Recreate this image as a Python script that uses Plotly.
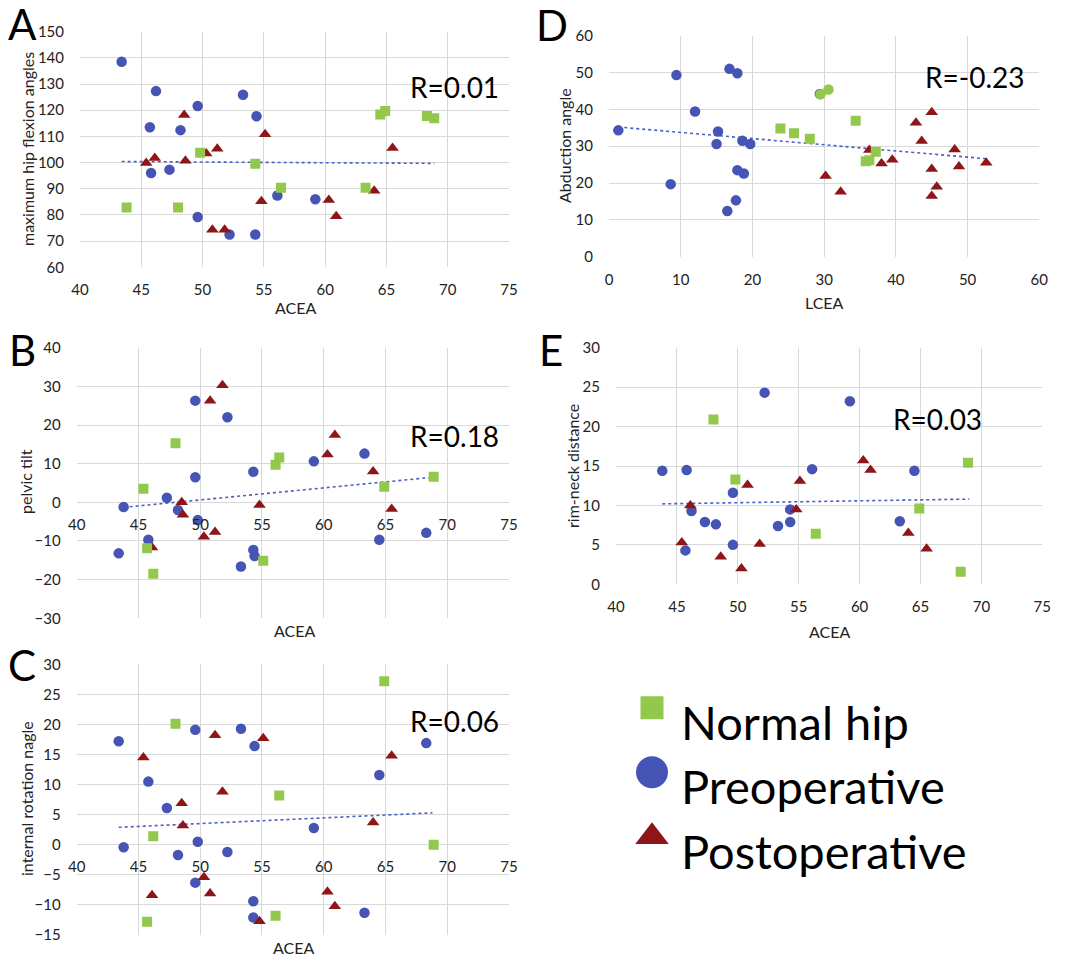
import plotly.graph_objects as go

W, H = 1073, 956
def fx(p): return p / W
def fy(p): return 1 - p / H

GREEN = "#92C84B"
BLUE = "#4655B5"
RED = "#8E1518"
GRID = "#D9D9D9"
TREND = "#4A5FC8"
FONT = "Lato"

# ---------------- Panel A: ACEA vs maximum hip flexion ----------------
A_pre_x = [43.4, 46.2, 53.3, 49.6, 45.7, 54.4, 48.2, 45.8, 47.3, 56.1, 59.2, 49.6, 52.2, 54.3]
A_pre_y = [138.5, 127.3, 125.9, 121.6, 113.5, 117.7, 112.4, 96.0, 97.3, 87.4, 86.0, 79.2, 72.5, 72.5]
A_post_x = [48.5, 55.1, 51.2, 65.5, 50.3, 45.4, 46.1, 48.6, 54.8, 60.3, 60.9, 64.0, 50.8, 51.8]
A_post_y = [118.2, 110.8, 105.3, 105.6, 103.5, 99.8, 101.8, 100.7, 85.2, 85.7, 79.5, 89.2, 74.3, 74.3]
A_norm_x = [43.8, 48.0, 49.8, 54.3, 56.4, 63.3, 64.5, 64.9, 68.3, 68.9]
A_norm_y = [82.8, 82.8, 103.8, 99.6, 90.4, 90.4, 118.4, 119.7, 117.8, 116.9]
A_trend_x = [43.4, 68.9]
A_trend_y = [100.4, 99.7]

# ---------------- Panel D: LCEA vs abduction angle ----------------
D_pre_x = [1.3, 9.4, 8.6, 12.0, 15.2, 15.0, 16.8, 17.9, 18.6, 19.7, 17.9, 18.8, 17.7, 16.5, 29.4]
D_pre_y = [34.3, 49.3, 19.7, 39.4, 34.0, 30.6, 51.0, 49.8, 31.5, 30.6, 23.5, 22.6, 15.3, 12.4, 44.2]
D_post_x = [30.2, 32.3, 36.3, 38.0, 39.5, 42.8, 43.6, 45.0, 45.0, 45.0, 45.7, 48.2, 48.8, 52.6]
D_post_y = [21.9, 17.6, 29.0, 25.3, 26.3, 36.4, 31.4, 39.2, 23.8, 16.5, 19.0, 29.1, 24.5, 25.5]
D_norm_x = [23.9, 25.8, 28.0, 34.4, 35.8, 36.3, 37.2]
D_norm_y = [34.8, 33.5, 32.0, 36.9, 25.9, 26.2, 28.5]
D_normc_x = [29.5, 30.6]
D_normc_y = [44.1, 45.4]
D_trend_x = [1.3, 52.6]
D_trend_y = [35.2, 26.6]

# ---------------- Panel B: ACEA vs pelvic tilt ----------------
B_pre_x = [49.6, 52.2, 49.6, 54.3, 59.2, 63.3, 47.3, 43.8, 48.2, 49.8, 45.8, 43.4, 54.3, 54.4, 53.3, 64.5, 68.3]
B_pre_y = [26.3, 22.0, 6.5, 7.9, 10.6, 12.6, 1.2, -1.2, -2.0, -4.6, -9.7, -13.2, -12.3, -13.9, -16.6, -9.7, -7.9]
B_post_x = [51.8, 50.8, 60.9, 60.3, 64.0, 48.5, 54.8, 48.6, 65.5, 51.2, 50.3, 46.1]
B_post_y = [30.3, 26.3, 17.4, 12.4, 8.0, 0.0, -0.7, -3.2, -1.7, -7.7, -8.9, -11.7]
B_norm_x = [48.0, 45.4, 56.4, 56.1, 64.9, 68.9, 45.7, 46.2, 55.1]
B_norm_y = [15.3, 3.5, 11.6, 9.7, 4.0, 6.6, -11.9, -18.5, -15.1]
B_trend_x = [43.8, 68.9]
B_trend_y = [-1.3, 6.5]

# ---------------- Panel E: ACEA vs rim-neck distance ----------------
E_pre_x = [52.2, 59.2, 43.8, 45.8, 56.1, 64.5, 49.6, 46.2, 47.3, 48.2, 54.3, 54.3, 53.3, 63.3, 49.6, 45.7]
E_pre_y = [24.3, 23.2, 14.4, 14.5, 14.6, 14.4, 11.6, 9.3, 7.9, 7.6, 9.5, 7.9, 7.4, 8.0, 5.0, 4.3]
E_post_x = [60.3, 60.9, 55.1, 50.8, 46.1, 54.8, 45.4, 51.8, 48.6, 50.3, 64.0, 65.5]
E_post_y = [15.7, 14.5, 13.1, 12.6, 10.0, 9.5, 5.3, 5.1, 3.5, 2.0, 6.5, 4.5]
E_norm_x = [48.0, 49.8, 56.4, 64.9, 68.9, 68.3]
E_norm_y = [20.9, 13.3, 6.4, 9.6, 15.4, 1.6]
E_trend_x = [43.8, 69.0]
E_trend_y = [10.2, 10.8]

# ---------------- Panel C: ACEA vs internal rotation ----------------
C_pre_x = [43.4, 49.6, 53.3, 54.4, 45.8, 47.3, 64.5, 68.3, 59.2, 43.8, 49.8, 48.2, 52.2, 49.6, 54.3, 54.3, 63.3]
C_pre_y = [17.2, 19.1, 19.3, 16.4, 10.5, 6.1, 11.6, 16.9, 2.8, -0.4, 0.5, -1.7, -1.2, -6.3, -9.4, -12.1, -11.3]
C_post_x = [51.2, 55.1, 45.4, 65.5, 51.8, 48.5, 48.6, 64.0, 50.3, 46.1, 50.8, 60.3, 60.9, 54.8]
C_post_y = [18.2, 17.7, 14.5, 14.8, 8.8, 6.9, 3.2, 3.7, -5.4, -8.4, -8.1, -7.8, -10.2, -12.7]
C_norm_x = [64.9, 48.0, 56.4, 46.2, 68.9, 45.7, 56.1]
C_norm_y = [27.2, 20.1, 8.2, 1.4, 0.0, -12.8, -11.8]
C_trend_x = [43.4, 68.8]
C_trend_y = [2.9, 5.3]

legend_labels = ["Normal hip", "Preoperative", "Postoperative"]
legend_symbols = ["square", "circle", "triangle-up"]
legend_colors = [GREEN, BLUE, RED]
legend_sizes = [23, 32, 29]

TICK_SIZE = 15
TITLE_SIZE = 16

# panel definitions (pixel boxes of the plot areas)
panels = [
    dict(k="", letter="A", box=(80, 31.7, 509, 267.3), xr=(40, 75), xd=5, yr=(60, 150), yd=10,
         ytitle="maximum hip flexion angles", xtitle="ACEA", R="R=0.01", Rpos=(454, 87),
         ytp=(27, 149), xtp=(295, 307), Lpos=(22, 24), zero=None,
         pre=(A_pre_x, A_pre_y), post=(A_post_x, A_post_y), norm=(A_norm_x, A_norm_y),
         trend=(A_trend_x, A_trend_y)),
    dict(k="2", letter="D", box=(609, 35.7, 1039.3, 256.7), xr=(0, 60), xd=10, yr=(0, 60), yd=10,
         ytitle="Abduction angle", xtitle="LCEA", R="R=-0.23", Rpos=(975, 77),
         ytp=(564, 146), xtp=(824, 303), Lpos=(552, 25), zero=None,
         pre=(D_pre_x, D_pre_y), post=(D_post_x, D_post_y), norm=(D_norm_x, D_norm_y),
         trend=(D_trend_x, D_trend_y)),
    dict(k="3", letter="B", box=(76.7, 347.7, 509, 618.3), xr=(40, 75), xd=5, yr=(-30, 40), yd=10,
         ytitle="pelvic tilt", xtitle="ACEA", R="R=0.18", Rpos=(454, 436),
         ytp=(26, 482), xtp=(294, 630), Lpos=(22, 350), zero=502.3,
         pre=(B_pre_x, B_pre_y), post=(B_post_x, B_post_y), norm=(B_norm_x, B_norm_y),
         trend=(B_trend_x, B_trend_y)),
    dict(k="4", letter="E", box=(616, 347.7, 1042.3, 584.3), xr=(40, 75), xd=5, yr=(0, 30), yd=5,
         ytitle="rim-neck distance", xtitle="ACEA", R="R=0.03", Rpos=(937, 419),
         ytp=(572, 466), xtp=(829, 631), Lpos=(551, 350), zero=None,
         pre=(E_pre_x, E_pre_y), post=(E_post_x, E_post_y), norm=(E_norm_x, E_norm_y),
         trend=(E_trend_x, E_trend_y)),
    dict(k="5", letter="C", box=(76.7, 664.3, 509, 935), xr=(40, 75), xd=5, yr=(-15, 30), yd=5,
         ytitle="internal rotation nagle", xtitle="ACEA", R="R=0.06", Rpos=(454, 721),
         ytp=(26, 799), xtp=(293, 947), Lpos=(22, 665), zero=844.3,
         pre=(C_pre_x, C_pre_y), post=(C_post_x, C_post_y), norm=(C_norm_x, C_norm_y),
         trend=(C_trend_x, C_trend_y)),
]

fig = go.Figure()
annotations = []
layout = {}

for p in panels:
    k = p["k"]
    xa, ya = "x" + k, "y" + k
    x0, y0, x1, y1 = p["box"]
    # trendline first (under markers)
    fig.add_trace(go.Scatter(x=p["trend"][0], y=p["trend"][1], mode="lines", xaxis=xa, yaxis=ya,
                             line=dict(color=TREND, width=1.6, dash="dot"), showlegend=False,
                             hoverinfo="skip"))
    fig.add_trace(go.Scatter(x=p["pre"][0], y=p["pre"][1], mode="markers", xaxis=xa, yaxis=ya,
                             marker=dict(symbol="circle", size=10.5, color=BLUE, line=dict(width=0)),
                             showlegend=False, name="Preoperative"))
    fig.add_trace(go.Scatter(x=p["post"][0], y=p["post"][1], mode="markers", xaxis=xa, yaxis=ya,
                             marker=dict(symbol="triangle-up", size=11, color=RED, line=dict(width=0)),
                             showlegend=False, name="Postoperative"))
    fig.add_trace(go.Scatter(x=p["norm"][0], y=p["norm"][1], mode="markers", xaxis=xa, yaxis=ya,
                             marker=dict(symbol="square", size=10, color=GREEN, line=dict(width=0)),
                             showlegend=False, name="Normal hip"))
    if p["letter"] == "D":
        fig.add_trace(go.Scatter(x=D_normc_x, y=D_normc_y, mode="markers", xaxis=xa, yaxis=ya,
                                 marker=dict(symbol="circle", size=10.5, color=GREEN, line=dict(width=0)),
                                 showlegend=False, name="Normal hip"))

    xaxis = dict(domain=[fx(x0), fx(x1)], range=list(p["xr"]), tick0=p["xr"][0], dtick=p["xd"],
                 showgrid=True, gridcolor=GRID, gridwidth=1, zeroline=False, showline=False,
                 ticks="", tickfont=dict(family=FONT, size=TICK_SIZE, color="#222"),
                 ticklabelstandoff=12, automargin=False)
    if p["zero"] is not None:
        xaxis.update(anchor="free", position=fy(p["zero"]))
    else:
        xaxis.update(anchor=ya)
    yaxis = dict(domain=[fy(y1), fy(y0)], range=list(p["yr"]), tick0=p["yr"][0], dtick=p["yd"],
                 showgrid=True, gridcolor=GRID, gridwidth=1, zeroline=False, showline=False,
                 ticks="", anchor=xa, tickfont=dict(family=FONT, size=TICK_SIZE, color="#222"),
                 ticklabelstandoff=15, automargin=False)
    layout["xaxis" + k] = xaxis
    layout["yaxis" + k] = yaxis

    annotations.append(dict(text=p["letter"], x=fx(p["Lpos"][0]), y=fy(p["Lpos"][1]), xref="paper",
                            yref="paper", showarrow=False, xanchor="center", yanchor="middle",
                            font=dict(family=FONT, size=42, color="#000")))
    annotations.append(dict(text=p["R"], x=fx(p["Rpos"][0]), y=fy(p["Rpos"][1]), xref="paper",
                            yref="paper", showarrow=False, xanchor="center", yanchor="middle",
                            font=dict(family=FONT, size=28, color="#000")))
    annotations.append(dict(text=p["ytitle"], x=fx(p["ytp"][0]), y=fy(p["ytp"][1]), xref="paper",
                            yref="paper", showarrow=False, textangle=-90, xanchor="center",
                            yanchor="middle", font=dict(family=FONT, size=TITLE_SIZE, color="#222")))
    annotations.append(dict(text=p["xtitle"], x=fx(p["xtp"][0]), y=fy(p["xtp"][1]), xref="paper",
                            yref="paper", showarrow=False, xanchor="center", yanchor="middle",
                            font=dict(family=FONT, size=TITLE_SIZE, color="#222")))

# ---------------- Legend panel ----------------
rows = list(range(len(legend_labels)))
for i in rows:
    fig.add_trace(go.Scatter(x=[0], y=[i], mode="markers", xaxis="x6", yaxis="y6",
                             marker=dict(symbol=legend_symbols[i], size=legend_sizes[i],
                                         color=legend_colors[i], line=dict(width=0)),
                             cliponaxis=False, showlegend=False, hoverinfo="skip"))
    annotations.append(dict(text=legend_labels[i], x=0.075, y=i, xref="x6", yref="y6",
                            showarrow=False, xanchor="left", yanchor="middle", yshift=-14,
                            font=dict(family=FONT, size=47, color="#000")))
layout["xaxis6"] = dict(domain=[fx(652), fx(1012)], range=[0, 1], visible=False, anchor="y6")
layout["yaxis6"] = dict(domain=[fy(869), fy(675.5)], range=[2.5, -0.5], visible=False, anchor="x6")

fig.update_layout(**layout)
fig.update_layout(width=W, height=H, margin=dict(l=0, r=0, t=0, b=0, pad=0),
                  paper_bgcolor="white", plot_bgcolor="white", showlegend=False,
                  annotations=annotations, font=dict(family=FONT))
fig.write_html("out.html", config={"displayModeBar": False},
               post_script="document.body.style.margin='0px';document.body.style.overflow='hidden';")
